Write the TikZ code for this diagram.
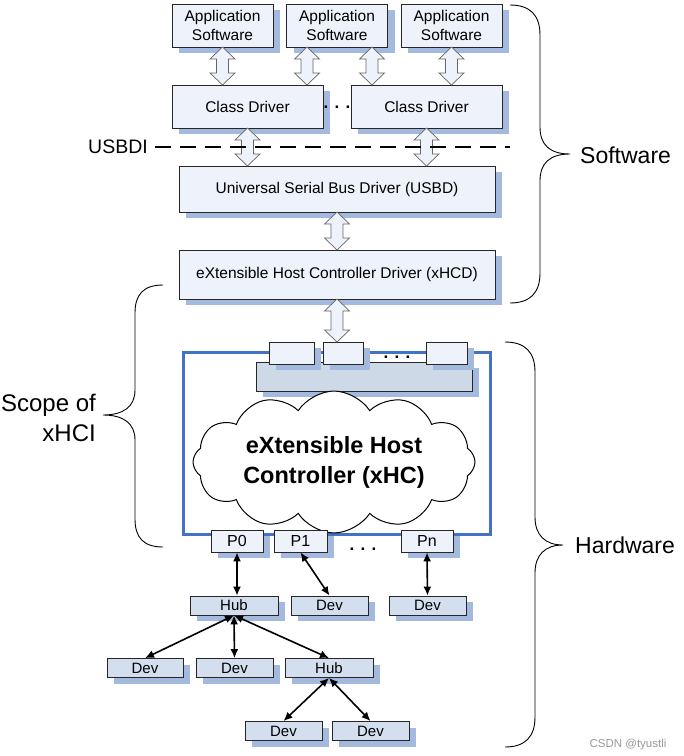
\documentclass[tikz,border=0pt]{standalone}
\usepackage{fontspec}
\setmainfont{Liberation Sans}
\usetikzlibrary{arrows.meta, positioning, calc, shadows, shapes.symbols}

\definecolor{boxfill}{HTML}{EEF2FA}
\definecolor{shadowblue}{HTML}{A3B9DD}
\definecolor{hubfill}{HTML}{D3DEEF}
\definecolor{barfill}{HTML}{CED9E8}
\definecolor{frameblue}{HTML}{4472C4}

\tikzset{
  layer/.style={draw=black!85, line width=0.8pt, fill=boxfill, inner sep=0pt, align=center,
    font=\fontsize{15.5}{18.5}\selectfont,
    drop shadow={shadow xshift=7pt, shadow yshift=-6pt, fill=shadowblue, opacity=1}},
  port/.style={layer, minimum height=22pt, font=\fontsize{16}{19}\selectfont},
  dev/.style={layer, fill=hubfill, minimum height=19pt, font=\fontsize{15}{18}\selectfont},
  link/.style={<->, >={Latex[length=9pt,width=8pt]}, line width=1.6pt},
  side/.style={line width=0.9pt},
  lbl/.style={inner sep=0pt, font=\fontsize{23}{27}\selectfont},
  dots/.style={inner sep=0pt, font=\bfseries\fontsize{17}{18}\selectfont},
  pics/dblarrow/.style={code={
    \draw[gray!80!black, fill=boxfill, line width=0.7pt]
      (0,-#1) -- (12.5,-#1+12) -- (6,-#1+12) -- (6,#1-12) -- (12.5,#1-12) -- (0,#1)
      -- (-12.5,#1-12) -- (-6,#1-12) -- (-6,-#1+12) -- (-12.5,-#1+12) -- cycle;
  }}
}

\begin{document}
\begin{tikzpicture}[x=1pt, y=-1pt]
\path[use as bounding box, fill=white] (0,0) rectangle (684,756);

\node (app1) at (222.5,25.5) [layer, minimum width=101pt, minimum height=43pt] {Application\\Software};
\node (app2) at (337,25.5) [layer, minimum width=101pt, minimum height=43pt] {Application\\Software};
\node (app3) at (451.5,25.5) [layer, minimum width=101pt, minimum height=43pt] {Application\\Software};

\node (cd1) at (247.5,106.5) [layer, minimum width=151pt, minimum height=43pt] {Class Driver};
\node (cd2) at (426.5,106.5) [layer, minimum width=151pt, minimum height=43pt] {Class Driver};
\node (cddots) at (337,107) [dots] {. . .};

\node (usbd) at (337,189) [layer, minimum width=316pt, minimum height=46pt] {Universal Serial Bus Driver (USBD)};
\node (xhcd) at (337,274.5) [layer, minimum width=316pt, minimum height=49pt] {eXtensible Host Controller Driver (xHCD)};

\node (hcbox) at (336.5,443) [draw=frameblue, line width=3pt, minimum width=307pt, minimum height=182pt] {};
\node (bar) at (364,376.5) [layer, fill=barfill, minimum width=216pt, minimum height=29pt] {};
\node (reg1) at (291.5,353) [layer, minimum width=45pt, minimum height=22pt] {};
\node (reg2) at (343,353) [layer, minimum width=40pt, minimum height=22pt] {};
\node (reg3) at (446.5,353) [layer, minimum width=41pt, minimum height=22pt] {};
\node (regdots) at (397,357) [dots] {. . .};

\node (xhc) at (334,462) [cloud, cloud puffs=12, cloud puff arc=115, aspect=2.35, draw, line width=1pt, fill=white,
  minimum width=282pt, minimum height=116pt, inner sep=0pt, align=center,
  font=\bfseries\fontsize{23.5}{30}\selectfont] {eXtensible Host\\Controller (xHC)};

\node (p0) at (237,541) [port, minimum width=52pt] {P0};
\node (p1) at (300.5,541) [port, minimum width=53pt] {P1};
\node (pn) at (427,541) [port, minimum width=52pt] {Pn};
\node (pdots) at (363,549) [dots] {. . .};

\node (hub1) at (234,605.5) [dev, minimum width=88pt] {Hub};
\node (dev1) at (329.5,605.5) [dev, minimum width=77pt] {Dev};
\node (devn) at (427.5,605.5) [dev, minimum width=77pt] {Dev};
\node (dev2) at (145,668) [dev, minimum width=76pt] {Dev};
\node (dev3) at (234.5,668) [dev, minimum width=77pt] {Dev};
\node (hub2) at (329,668) [dev, minimum width=88pt] {Hub};
\node (dev4) at (283.5,731) [dev, minimum width=77pt] {Dev};
\node (dev5) at (370.5,731) [dev, minimum width=77pt] {Dev};

\coordinate (a2l) at ([xshift=-30pt]app2.south);
\coordinate (a2r) at ([xshift=35pt]app2.south);
\pic at ($(app1.south)!0.5!(app1.south |- cd1.north)$) {dblarrow=19};
\pic at ($(a2l)!0.5!(a2l |- cd1.north)$) {dblarrow=19};
\pic at ($(a2r)!0.5!(a2r |- cd2.north)$) {dblarrow=19};
\pic at ($(app3.south)!0.5!(app3.south |- cd2.north)$) {dblarrow=19};
\pic at ($(cd1.south)!0.5!(cd1.south |- usbd.north)$) {dblarrow=19};
\pic at ($(cd2.south)!0.5!(cd2.south |- usbd.north)$) {dblarrow=19};
\pic at ($(usbd.south)!0.5!(xhcd.north)$) {dblarrow=19};
\pic at ($(xhcd.south)!0.5!(xhcd.south |- reg2.north)$) {dblarrow=21.5};

\node (usbdi) at (118,147) [lbl, font=\fontsize{19.5}{23}\selectfont] {USBDI};
\coordinate (usbend) at (510,147);
\draw[line width=2pt, dash pattern=on 16pt off 9pt] ([xshift=7pt]usbdi.east) -- (usbend);

\draw[link] (p0.south) -- (p0.south |- hub1.north);
\draw[link] (p1.south) -- (dev1.north);
\draw[link] (pn.south) -- (devn.north);
\draw[link] (hub1.south) -- (dev2.north);
\draw[link] (hub1.south) -- (dev3.north);
\draw[link] (hub1.south) -- (hub2.north);
\draw[link] (hub2.south) -- (dev4.north);
\draw[link] (hub2.south) -- (dev5.north);

\draw[side] (510,5) .. controls (530,5) and (540,15) .. (540,35) -- (540,127)
  .. controls (540,145) and (550,154) .. (570,154) .. controls (550,154) and (540,163) .. (540,181)
  -- (540,273) .. controls (540,293) and (530,303) .. (510,303);
\draw[side] (505,342) .. controls (525,342) and (535,352) .. (535,372) -- (535,517)
  .. controls (535,535) and (545,545) .. (563,545) .. controls (545,545) and (535,555) .. (535,573)
  -- (535,717) .. controls (535,737) and (525,747) .. (505,747);
\draw[side] (163,285) .. controls (143,285) and (135,295) .. (135,313) -- (135,390)
  .. controls (135,407) and (123,415) .. (103,415) .. controls (123,415) and (135,423) .. (135,440)
  -- (135,519) .. controls (135,537) and (143,547) .. (163,547);
\node (sw) at (580,155) [lbl, anchor=west] {Software};
\node (hw) at (575,545) [lbl, anchor=west] {Hardware};
\node (scope) at (96,418) [lbl, anchor=east, align=right, font=\fontsize{24}{30}\selectfont] {Scope of\\xHCI};

\node (mark) at (628,745) [inner sep=0pt, text=black!40, font=\fontsize{11.5}{13}\selectfont] {CSDN @tyustli};
\end{tikzpicture}
\end{document}
